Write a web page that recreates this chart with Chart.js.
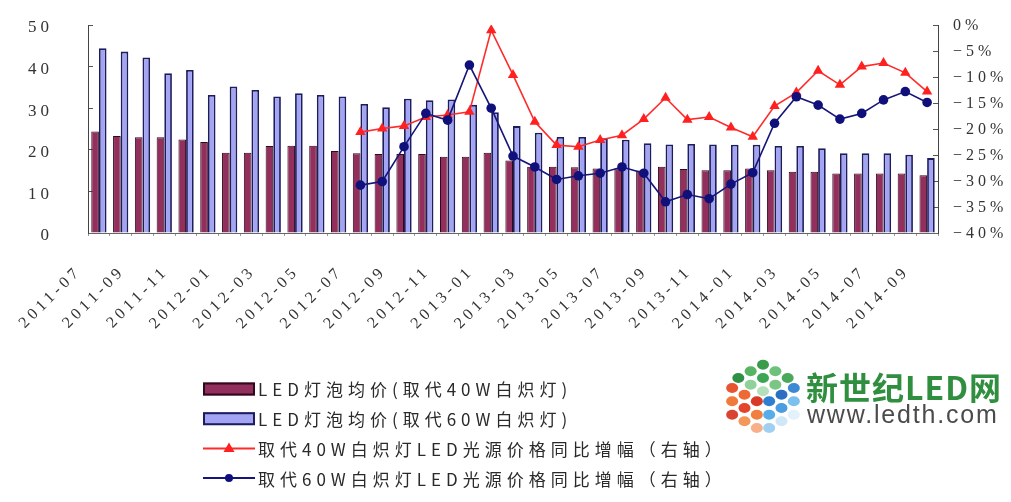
<!DOCTYPE html>
<html>
<head>
<meta charset="utf-8">
<script src="https://cdn.jsdelivr.net/npm/chart.js@4/dist/chart.umd.min.js"></script>
<style>
  html, body { margin: 0; padding: 0; background: #fff; }
  #wrap { position: relative; width: 1011px; height: 502px; }
</style>
</head>
<body>
<div id="wrap"><canvas id="c" width="1011" height="502"></canvas></div>
<script>
// Monthly categories
const months = [
  '2011-07','2011-08','2011-09','2011-10','2011-11','2011-12',
  '2012-01','2012-02','2012-03','2012-04','2012-05','2012-06',
  '2012-07','2012-08','2012-09','2012-10','2012-11','2012-12',
  '2013-01','2013-02','2013-03','2013-04','2013-05','2013-06',
  '2013-07','2013-08','2013-09','2013-10','2013-11','2013-12',
  '2014-01','2014-02','2014-03','2014-04','2014-05','2014-06',
  '2014-07','2014-08','2014-09'
];

// Average LED bulb price (left axis)
const price40W = [
  24.4, 23.3, 23.0, 23.0, 22.5, 21.9, 19.3, 19.3, 20.9, 21.0,
  21.0, 19.7, 19.2, 19.0, 19.0, 19.0, 18.3, 18.3, 19.3, 17.4,
  15.9, 15.9, 15.8, 15.5, 15.5, 15.0, 15.9, 15.4, 15.1, 15.1,
  15.5, 15.1, 14.7, 14.7, 14.3, 14.3, 14.3, 14.3, 13.9
];
const price60W = [
  44.4, 43.6, 42.2, 38.4, 39.2, 33.2, 35.2, 34.4, 32.8, 33.6,
  33.2, 32.8, 31.0, 30.2, 32.3, 31.9, 32.1, 30.8, 29.0, 25.7,
  24.1, 23.1, 23.1, 22.8, 22.4, 21.6, 21.3, 21.4, 21.3, 21.2,
  21.2, 20.9, 20.9, 20.4, 19.2, 19.2, 19.2, 18.8, 18.0
];

// Year-on-year change in %, right axis (series begins 2012-07)
const yoy40W = [
  null, null, null, null, null, null, null, null, null, null, null, null,
  -20.6, -19.9, -19.4, -17.7, -17.3, -16.7, -1.0, -9.6, -18.6, -23.1,
  -23.4, -22.1, -21.2, -18.1, -14.0, -18.2, -17.7, -19.7, -21.5, -15.6,
  -13.0, -8.8, -11.5, -8.0, -7.3, -9.2, -12.8
];
const yoy60W = [
  null, null, null, null, null, null, null, null, null, null, null, null,
  -30.8, -30.1, -23.4, -17.0, -18.3, -7.7, -16.0, -25.2, -27.3, -29.7,
  -29.0, -28.5, -27.3, -28.5, -34.0, -32.6, -33.4, -30.6, -28.4, -18.9,
  -13.8, -15.4, -18.1, -17.0, -14.4, -12.8, -14.9
];

const seriesNames = [
  'LED灯泡均价(取代40W白炽灯)',
  'LED灯泡均价(取代60W白炽灯)',
  '取代40W白炽灯LED光源价格同比增幅（右轴）',
  '取代60W白炽灯LED光源价格同比增幅（右轴）'
];

const SERIF = "'Liberation Serif', 'DejaVu Serif', serif";

// Wide letter spacing used by all axis text
const spacingPlugin = {
  id: 'spacing',
  beforeLayout(chart) { chart.ctx.letterSpacing = '4px'; },
  beforeDraw(chart) {
    const ctx = chart.ctx;
    ctx.save();
    ctx.fillStyle = '#fff';
    ctx.fillRect(0, 0, chart.width, chart.height);
    ctx.restore();
    ctx.letterSpacing = '4px';
  }
};

// Stacked legend under the plot plus the site badge on the right
const legendPlugin = {
  id: 'stackedLegend',
  afterDraw(chart) {
    const ctx = chart.ctx;
    const items = chart.data.datasets;
    const x0 = 203, y0 = 389, rowGap = 29.7, symW = 52;
    ctx.save();
    ctx.letterSpacing = '5px';
    ctx.font = "17px 'Noto Sans CJK SC', sans-serif";
    ctx.textBaseline = 'middle';
    ctx.textAlign = 'left';
    items.forEach((ds, i) => {
      const y = y0 + i * rowGap;
      if (ds.type === 'line') {
        ctx.strokeStyle = ds.borderColor;
        ctx.lineWidth = 2;
        ctx.beginPath();
        ctx.moveTo(x0, y);
        ctx.lineTo(x0 + symW, y);
        ctx.stroke();
        ctx.fillStyle = ds.backgroundColor;
        const mx = x0 + symW / 2;
        ctx.beginPath();
        if (ds.pointStyle === 'triangle') {
          ctx.moveTo(mx, y - 6);
          ctx.lineTo(mx + 5.5, y + 3.5);
          ctx.lineTo(mx - 5.5, y + 3.5);
          ctx.closePath();
        } else {
          ctx.arc(mx, y, 4, 0, Math.PI * 2);
        }
        ctx.fill();
      } else {
        ctx.fillStyle = ds.backgroundColor;
        ctx.fillRect(x0, y - 6.5, symW, 13);
        ctx.strokeStyle = ds.borderColor;
        ctx.lineWidth = 2;
        ctx.strokeRect(x0 + 1, y - 5.5, symW - 2, 11);
      }
      ctx.fillStyle = '#2a2a2a';
      ctx.fillText(ds.label, x0 + symW + 3, y + 1);
    });

    // badge: dotted cube and site name
    const cx = 763, top = 358, hw = 37, hh = 20, side = 40;
    const faces = [
      { o: [cx, top], u: [hw, hh], v: [-hw, hh], cols: ['#3a9b4b', '#56b463', '#2f8f45', '#6cc27a', '#3aa655', '#8fd19a', '#4aa85a', '#7bc585', '#b6e0bb'] },
      { o: [cx - hw, top + hh], u: [hw, hh], v: [0, side], cols: ['#e8542f', '#f07a3a', '#d94330', '#ee6a35', '#e2452a', '#f4985a', '#d93a28', '#f08040', '#f7b08a'] },
      { o: [cx, top + 2 * hh], u: [hw, -hh], v: [0, side], cols: ['#2f7fd0', '#55aee8', '#9fd0f2', '#2a6fc2', '#4a9de0', '#cfe7f7', '#3b88d6', '#7cc0ee', '#e3f1fa'] }
    ];
    faces.forEach(f => {
      let k = 0;
      for (let i = 0; i < 3; i++) {
        for (let j = 0; j < 3; j++) {
          const a = (i + 0.5) / 3, b = (j + 0.5) / 3;
          const px = f.o[0] + a * f.u[0] + b * f.v[0];
          const py = f.o[1] + a * f.u[1] + b * f.v[1];
          ctx.fillStyle = f.cols[k++];
          ctx.beginPath();
          ctx.ellipse(px, py, 6, 5, 0, 0, Math.PI * 2);
          ctx.fill();
        }
      }
    });
    ctx.textBaseline = 'alphabetic';
    ctx.letterSpacing = '1px';
    ctx.fillStyle = '#2f8f3f';
    ctx.font = "bold 32px 'Noto Sans CJK SC', sans-serif";
    ctx.fillText('新世纪LED网', 806, 400);
    ctx.letterSpacing = '1.8px';
    ctx.fillStyle = '#4b4b4b';
    ctx.font = "25px 'Liberation Sans', Arial, sans-serif";
    ctx.fillText('www.ledth.com', 807, 423);
    ctx.restore();
  }
};

const pctLabel = v => (v < 0 ? '\u2212' : '') + Math.abs(v) + '%';

// keep the plot rectangle fixed: no extra edge padding from tick labels
const noEdgePad = s => { s.paddingTop = 0; s.paddingBottom = 0; s.paddingLeft = 0; s.paddingRight = 0; };

new Chart(document.getElementById('c'), {
  type: 'bar',
  data: {
    labels: months,
    datasets: [
      {
        label: seriesNames[0], data: price40W, yAxisID: 'y', order: 2,
        backgroundColor: '#922f5c', borderColor: '#2e0a1d', borderWidth: 1,
        categoryPercentage: 0.7, barPercentage: 1.0
      },
      {
        label: seriesNames[1], data: price60W, yAxisID: 'y', order: 2,
        backgroundColor: '#a4a4f4', borderColor: '#1d1d5c', borderWidth: 1.8,
        categoryPercentage: 0.7, barPercentage: 1.0
      },
      {
        type: 'line', label: seriesNames[2], data: yoy40W, yAxisID: 'y2', order: 1,
        borderColor: '#ff2b2b', backgroundColor: '#ff2020', borderWidth: 1.6,
        pointStyle: 'triangle', pointRadius: 6, pointBorderWidth: 0, tension: 0
      },
      {
        type: 'line', label: seriesNames[3], data: yoy60W, yAxisID: 'y2', order: 0,
        borderColor: '#16167a', backgroundColor: '#10107a', borderWidth: 1.6,
        pointStyle: 'circle', pointRadius: 4.8, pointBorderWidth: 0, tension: 0
      }
    ]
  },
  options: {
    responsive: false,
    animation: false,
    devicePixelRatio: 1,
    layout: { padding: { top: 25, left: 0, right: 0, bottom: 0 } },
    plugins: { legend: { display: false }, tooltip: { enabled: false } },
    scales: {
      x: {
        offset: true,
        grid: { display: true, drawOnChartArea: false, tickLength: 3, color: '#999' },
        border: { display: true, color: '#666', width: 1 },
        ticks: {
          autoSkip: false, minRotation: 45, maxRotation: 45,
          padding: 26, labelOffset: -20,
          color: '#333', font: { family: SERIF, size: 16 },
          callback: (v, i) => (i % 2 === 0 ? months[i] : '')
        },
        afterFit: s => { s.height = 269; noEdgePad(s); }
      },
      y: {
        position: 'left', min: 0, max: 50,
        grid: { display: true, drawOnChartArea: false, tickLength: -5, color: '#555' },
        border: { display: true, color: '#444', width: 1 },
        ticks: { stepSize: 10, padding: 40, labelOffset: 3, color: '#333', font: { family: SERIF, size: 17 } },
        afterFit: s => { s.width = 88; noEdgePad(s); }
      },
      y2: {
        position: 'right', min: -40, max: 0,
        grid: { display: true, drawOnChartArea: false, tickLength: -5, color: '#555' },
        border: { display: true, color: '#444', width: 1 },
        ticks: { stepSize: 5, padding: 20, labelOffset: 1, color: '#333', font: { family: SERIF, size: 16 }, callback: pctLabel },
        afterFit: s => { s.width = 73; noEdgePad(s); }
      }
    }
  },
  plugins: [spacingPlugin, legendPlugin]
});
</script>
</body>
</html>
